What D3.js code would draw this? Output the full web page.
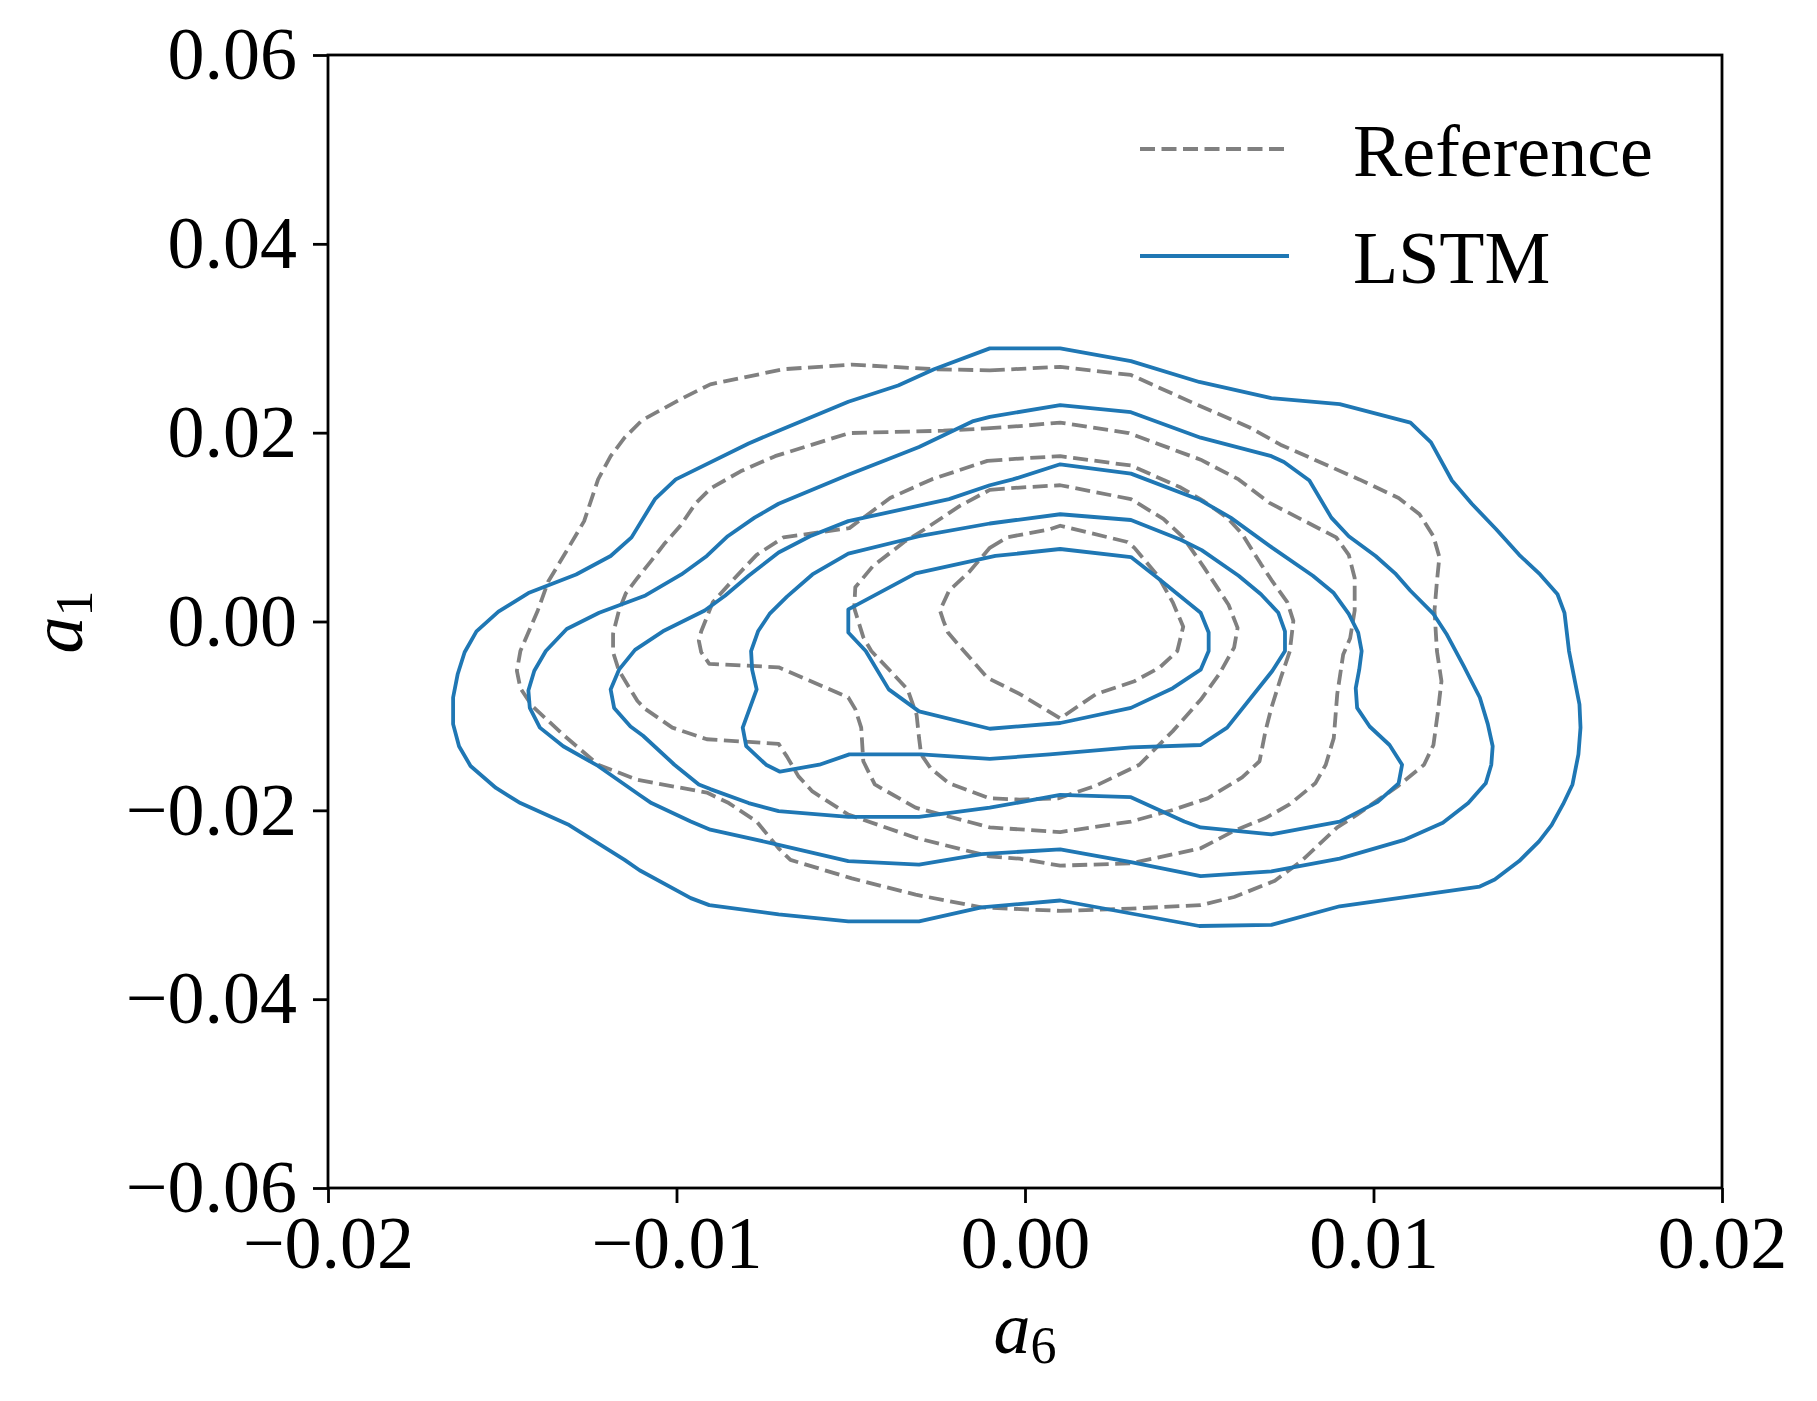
<!DOCTYPE html>
<html>
<head>
<meta charset="utf-8">
<script src="https://cdn.jsdelivr.net/npm/d3@7"></script>
<style>
  body { margin: 0; background: #fff; }
  svg text { font-family: "Liberation Serif", "Times New Roman", serif; }
</style>
</head>
<body>
<svg id="chart" width="1817" height="1401"></svg>
<script>
// axes
const xTicks = [-0.02, -0.01, 0.00, 0.01, 0.02]
const yTicks = [-0.06, -0.04, -0.02, 0.00, 0.02, 0.04, 0.06]
const seriesNames = ['Reference', 'LSTM']

// reference density contours (outer -> inner), [a6, a1]
const ref1 = [[-0.00101,0.02660],[0.00101,0.02697],[0.00304,0.02611],[0.00504,0.02279],[0.00643,0.02058],[0.00733,0.01873],[0.00959,0.01505],[0.01072,0.01308],[0.01132,0.01136],[0.01172,0.00903],[0.01189,0.00682],[0.01182,0.00424],[0.01175,0.00117],[0.01182,-0.00313],[0.01195,-0.00633],[0.01185,-0.00952],[0.01172,-0.01308],[0.01145,-0.01517],[0.01072,-0.01738],[0.00953,-0.02045],[0.00896,-0.02181],[0.00793,-0.02537],[0.00717,-0.02746],[0.00600,-0.02918],[0.00504,-0.03004],[0.00304,-0.03041],[0.00101,-0.03065],[-0.00125,-0.03028],[-0.00314,-0.02893],[-0.00497,-0.02721],[-0.00673,-0.02525],[-0.00707,-0.02402],[-0.00770,-0.02119],[-0.00850,-0.01923],[-0.00913,-0.01812],[-0.01112,-0.01677],[-0.01225,-0.01517],[-0.01322,-0.01210],[-0.01415,-0.00891],[-0.01448,-0.00706],[-0.01458,-0.00522],[-0.01448,-0.00313],[-0.01398,0.00117],[-0.01368,0.00424],[-0.01322,0.00706],[-0.01265,0.01063],[-0.01225,0.01505],[-0.01189,0.01751],[-0.01149,0.01947],[-0.01099,0.02131],[-0.00989,0.02353],[-0.00903,0.02512],[-0.00693,0.02672],[-0.00497,0.02721],[-0.00261,0.02672]]
const ref2 = [[-0.00111,0.02045],[-0.00015,0.02070],[0.00101,0.02107],[0.00298,0.01996],[0.00504,0.01714],[0.00613,0.01505],[0.00700,0.01259],[0.00893,0.00891],[0.00929,0.00706],[0.00946,0.00461],[0.00946,0.00117],[0.00933,-0.00178],[0.00913,-0.00350],[0.00896,-0.00768],[0.00886,-0.01235],[0.00863,-0.01517],[0.00833,-0.01714],[0.00760,-0.01935],[0.00690,-0.02082],[0.00600,-0.02217],[0.00504,-0.02402],[0.00304,-0.02561],[0.00101,-0.02586],[-0.00015,-0.02512],[-0.00101,-0.02488],[-0.00314,-0.02291],[-0.00507,-0.02045],[-0.00610,-0.01800],[-0.00650,-0.01640],[-0.00683,-0.01431],[-0.00707,-0.01296],[-0.00913,-0.01247],[-0.01012,-0.01124],[-0.01089,-0.00928],[-0.01112,-0.00842],[-0.01165,-0.00522],[-0.01182,-0.00326],[-0.01182,-0.00129],[-0.01165,0.00117],[-0.01145,0.00301],[-0.01112,0.00461],[-0.01072,0.00645],[-0.01036,0.00817],[-0.00989,0.01014],[-0.00946,0.01247],[-0.00903,0.01407],[-0.00816,0.01591],[-0.00717,0.01751],[-0.00504,0.01996],[-0.00234,0.02021]]
const ref3 = [[-0.00108,0.01701],[-0.00015,0.01726],[0.00101,0.01751],[0.00304,0.01652],[0.00447,0.01419],[0.00514,0.01271],[0.00580,0.01100],[0.00623,0.00928],[0.00677,0.00608],[0.00710,0.00424],[0.00753,0.00203],[0.00770,0.00006],[0.00760,-0.00313],[0.00733,-0.00608],[0.00707,-0.00915],[0.00690,-0.01161],[0.00673,-0.01480],[0.00623,-0.01652],[0.00524,-0.01873],[0.00424,-0.01996],[0.00304,-0.02119],[0.00101,-0.02230],[-0.00101,-0.02181],[-0.00314,-0.01972],[-0.00431,-0.01726],[-0.00464,-0.01480],[-0.00470,-0.01124],[-0.00487,-0.00928],[-0.00507,-0.00805],[-0.00707,-0.00485],[-0.00906,-0.00448],[-0.00929,-0.00326],[-0.00936,-0.00203],[-0.00929,-0.00104],[-0.00896,0.00203],[-0.00836,0.00448],[-0.00770,0.00706],[-0.00693,0.00891],[-0.00504,0.00989],[-0.00387,0.01308],[-0.00268,0.01505]]
const ref4 = [[-0.00101,0.01394],[-0.00015,0.01419],[0.00101,0.01443],[0.00304,0.01296],[0.00397,0.01087],[0.00454,0.00891],[0.00514,0.00571],[0.00584,0.00178],[0.00610,-0.00068],[0.00600,-0.00276],[0.00557,-0.00559],[0.00504,-0.00829],[0.00424,-0.01161],[0.00328,-0.01517],[0.00204,-0.01738],[0.00095,-0.01873],[-0.00015,-0.01886],[-0.00101,-0.01873],[-0.00218,-0.01714],[-0.00271,-0.01554],[-0.00298,-0.01407],[-0.00304,-0.01235],[-0.00311,-0.00989],[-0.00337,-0.00719],[-0.00387,-0.00522],[-0.00441,-0.00313],[-0.00464,-0.00166],[-0.00490,0.00141],[-0.00487,0.00362],[-0.00437,0.00584],[-0.00347,0.00842],[-0.00288,0.00977],[-0.00188,0.01222]]
const ref5 = [[-0.00101,0.00780],[-0.00052,0.00891],[0.00071,0.00977],[0.00101,0.01014],[0.00294,0.00842],[0.00314,0.00780],[0.00381,0.00485],[0.00424,0.00203],[0.00454,-0.00055],[0.00437,-0.00313],[0.00387,-0.00485],[0.00314,-0.00633],[0.00204,-0.00768],[0.00101,-0.01026],[-0.00015,-0.00768],[-0.00108,-0.00596],[-0.00178,-0.00301],[-0.00221,-0.00117],[-0.00234,0.00006],[-0.00244,0.00117],[-0.00218,0.00326],[-0.00161,0.00522]]

// LSTM density contours (outer -> inner), [a6, a1]
const lstm1 = [[-0.00101,0.02893],[0.00101,0.02893],[0.00304,0.02758],[0.00500,0.02537],[0.00707,0.02365],[0.00903,0.02303],[0.01106,0.02107],[0.01165,0.01898],[0.01225,0.01493],[0.01282,0.01247],[0.01352,0.00977],[0.01418,0.00706],[0.01478,0.00498],[0.01528,0.00289],[0.01548,0.00092],[0.01561,-0.00313],[0.01578,-0.00633],[0.01591,-0.00878],[0.01594,-0.01124],[0.01588,-0.01407],[0.01571,-0.01726],[0.01544,-0.01935],[0.01511,-0.02156],[0.01475,-0.02328],[0.01418,-0.02537],[0.01348,-0.02733],[0.01305,-0.02807],[0.00903,-0.03016],[0.00707,-0.03213],[0.00500,-0.03225],[0.00101,-0.02955],[-0.00125,-0.03028],[-0.00304,-0.03176],[-0.00507,-0.03176],[-0.00707,-0.03102],[-0.00906,-0.03004],[-0.00959,-0.02930],[-0.01106,-0.02635],[-0.01149,-0.02525],[-0.01308,-0.02156],[-0.01448,-0.01923],[-0.01518,-0.01763],[-0.01591,-0.01530],[-0.01624,-0.01321],[-0.01641,-0.01087],[-0.01641,-0.00805],[-0.01628,-0.00559],[-0.01608,-0.00326],[-0.01574,-0.00104],[-0.01511,0.00104],[-0.01425,0.00301],[-0.01288,0.00498],[-0.01189,0.00694],[-0.01129,0.00891],[-0.01062,0.01296],[-0.01002,0.01505],[-0.00793,0.01886],[-0.00707,0.02021],[-0.00507,0.02328],[-0.00364,0.02500],[-0.00261,0.02672]]
const lstm2 = [[-0.00101,0.02168],[0.00101,0.02291],[0.00304,0.02217],[0.00504,0.01947],[0.00707,0.01751],[0.00743,0.01689],[0.00816,0.01493],[0.00879,0.01100],[0.00929,0.00903],[0.01006,0.00694],[0.01062,0.00510],[0.01106,0.00326],[0.01172,0.00080],[0.01209,-0.00129],[0.01259,-0.00473],[0.01305,-0.00805],[0.01328,-0.01087],[0.01342,-0.01321],[0.01338,-0.01517],[0.01322,-0.01714],[0.01272,-0.01923],[0.01199,-0.02131],[0.01086,-0.02316],[0.00903,-0.02512],[0.00707,-0.02647],[0.00504,-0.02697],[0.00304,-0.02549],[0.00101,-0.02414],[-0.00125,-0.02463],[-0.00304,-0.02574],[-0.00507,-0.02537],[-0.00707,-0.02365],[-0.00903,-0.02205],[-0.00959,-0.02119],[-0.01072,-0.01923],[-0.01106,-0.01837],[-0.01225,-0.01530],[-0.01325,-0.01321],[-0.01392,-0.01124],[-0.01421,-0.00915],[-0.01425,-0.00731],[-0.01408,-0.00522],[-0.01375,-0.00313],[-0.01315,-0.00080],[-0.01222,0.00092],[-0.01089,0.00276],[-0.00986,0.00498],[-0.00913,0.00694],[-0.00853,0.00903],[-0.00776,0.01100],[-0.00707,0.01247],[-0.00507,0.01554],[-0.00397,0.01714],[-0.00304,0.01849],[-0.00151,0.02119]]
const lstm3 = [[-0.00101,0.01443],[-0.00035,0.01505],[0.00101,0.01665],[0.00304,0.01566],[0.00504,0.01284],[0.00590,0.01100],[0.00710,0.00780],[0.00826,0.00485],[0.00886,0.00301],[0.00929,0.00080],[0.00956,-0.00117],[0.00966,-0.00313],[0.00959,-0.00510],[0.00949,-0.00706],[0.00953,-0.00915],[0.00989,-0.01112],[0.01046,-0.01308],[0.01082,-0.01517],[0.01072,-0.01714],[0.01012,-0.01910],[0.00903,-0.02119],[0.00707,-0.02254],[0.00504,-0.02181],[0.00457,-0.02119],[0.00304,-0.01861],[0.00101,-0.01837],[-0.00101,-0.01972],[-0.00304,-0.02070],[-0.00507,-0.02070],[-0.00707,-0.02009],[-0.00793,-0.01923],[-0.00903,-0.01775],[-0.00936,-0.01726],[-0.01006,-0.01517],[-0.01096,-0.01210],[-0.01132,-0.01112],[-0.01179,-0.00915],[-0.01189,-0.00719],[-0.01165,-0.00510],[-0.01119,-0.00301],[-0.01039,-0.00104],[-0.00919,0.00117],[-0.00860,0.00276],[-0.00793,0.00485],[-0.00707,0.00731],[-0.00617,0.00903],[-0.00507,0.01063],[-0.00218,0.01296]]
const lstm4 = [[-0.00101,0.01038],[0.00101,0.01136],[0.00304,0.01075],[0.00447,0.00866],[0.00507,0.00756],[0.00613,0.00485],[0.00677,0.00289],[0.00727,0.00092],[0.00746,-0.00104],[0.00746,-0.00313],[0.00710,-0.00522],[0.00580,-0.01124],[0.00504,-0.01308],[0.00304,-0.01333],[0.00071,-0.01407],[-0.00101,-0.01456],[-0.00298,-0.01407],[-0.00504,-0.01407],[-0.00590,-0.01517],[-0.00703,-0.01591],[-0.00743,-0.01517],[-0.00800,-0.01321],[-0.00810,-0.01124],[-0.00770,-0.00719],[-0.00783,-0.00510],[-0.00786,-0.00313],[-0.00766,-0.00104],[-0.00733,0.00080],[-0.00683,0.00264],[-0.00610,0.00498],[-0.00507,0.00719],[-0.00304,0.00903]]
const lstm5 = [[-0.00085,0.00694],[0.00101,0.00768],[0.00304,0.00682],[0.00381,0.00461],[0.00504,0.00092],[0.00527,-0.00117],[0.00527,-0.00313],[0.00504,-0.00510],[0.00424,-0.00706],[0.00304,-0.00915],[0.00101,-0.01075],[-0.00101,-0.01136],[-0.00304,-0.00952],[-0.00391,-0.00719],[-0.00457,-0.00313],[-0.00507,-0.00117],[-0.00507,0.00129],[-0.00314,0.00510]]

const refContours = [ref1, ref2, ref3, ref4, ref5]
const lstmContours = [lstm1, lstm2, lstm3, lstm4, lstm5]

const colors = { Reference: '#808080', LSTM: '#1f77b4' }
const lineWidth = 3.8
const dash = '15,6.5'

const svg = d3.select('#chart')
const margin = { left: 328, right: 1722, top: 55, bottom: 1188 }

const x = d3.scaleLinear().domain([-0.02, 0.02]).range([margin.left, margin.right])
const y = d3.scaleLinear().domain([-0.06, 0.06]).range([margin.bottom, margin.top])

const line = d3.line()
    .x(d => x(d[0]))
    .y(d => y(d[1]))
    .curve(d3.curveLinearClosed)

// contours
svg.append('g').selectAll('path')
    .data(refContours)
    .join('path')
    .attr('d', line)
    .attr('fill', 'none')
    .attr('stroke', colors.Reference)
    .attr('stroke-width', lineWidth)
    .attr('stroke-dasharray', dash)
    .attr('stroke-linejoin', 'round')

svg.append('g').selectAll('path')
    .data(lstmContours)
    .join('path')
    .attr('d', line)
    .attr('fill', 'none')
    .attr('stroke', colors.LSTM)
    .attr('stroke-width', lineWidth)
    .attr('stroke-linejoin', 'round')

// frame
svg.append('rect')
    .attr('x', margin.left)
    .attr('y', margin.top)
    .attr('width', margin.right - margin.left)
    .attr('height', margin.bottom - margin.top)
    .attr('fill', 'none')
    .attr('stroke', '#000')
    .attr('stroke-width', 2.8)

const fmt = d3.format('.2f')
const xAxis = svg.append('g')
    .attr('transform', `translate(0,${margin.bottom})`)
    .call(d3.axisBottom(x).tickValues(xTicks).tickFormat(fmt).tickSize(15).tickPadding(12))
const yAxis = svg.append('g')
    .attr('transform', `translate(${margin.left},0)`)
    .call(d3.axisLeft(y).tickValues(yTicks).tickFormat(fmt).tickSize(15).tickPadding(16))

;[xAxis, yAxis].forEach(axis => {
    axis.select('.domain').remove()
    axis.selectAll('.tick line').attr('stroke', '#000').attr('stroke-width', 2.8)
    axis.selectAll('.tick text')
        .attr('fill', '#000')
        .style('font-family', '"Liberation Serif", "Times New Roman", serif')
        .style('font-size', '74px')
})

// axis labels
const xLabel = svg.append('text')
    .attr('x', 1025)
    .attr('y', 1353)
    .attr('text-anchor', 'middle')
    .style('font-size', '74px')
xLabel.append('tspan').style('font-style', 'italic').text('a')
xLabel.append('tspan').attr('dy', 10).style('font-size', '52px').text('6')

const yLabel = svg.append('text')
    .attr('transform', 'translate(82,622) rotate(-90)')
    .attr('text-anchor', 'middle')
    .style('font-size', '74px')
yLabel.append('tspan').style('font-style', 'italic').text('a')
yLabel.append('tspan').attr('dy', 10).style('font-size', '52px').text('1')

// legend
const legend = svg.append('g')
seriesNames.forEach((name, i) => {
    const ly = 149 + i * 107
    legend.append('line')
        .attr('x1', 1140).attr('x2', 1289)
        .attr('y1', ly).attr('y2', ly)
        .attr('stroke', colors[name])
        .attr('stroke-width', lineWidth)
        .attr('stroke-dasharray', name == 'Reference' ? dash : null)
    legend.append('text')
        .attr('x', 1353)
        .attr('y', ly + 27)
        .style('font-size', '74px')
        .text(name)
})
</script>
</body>
</html>
